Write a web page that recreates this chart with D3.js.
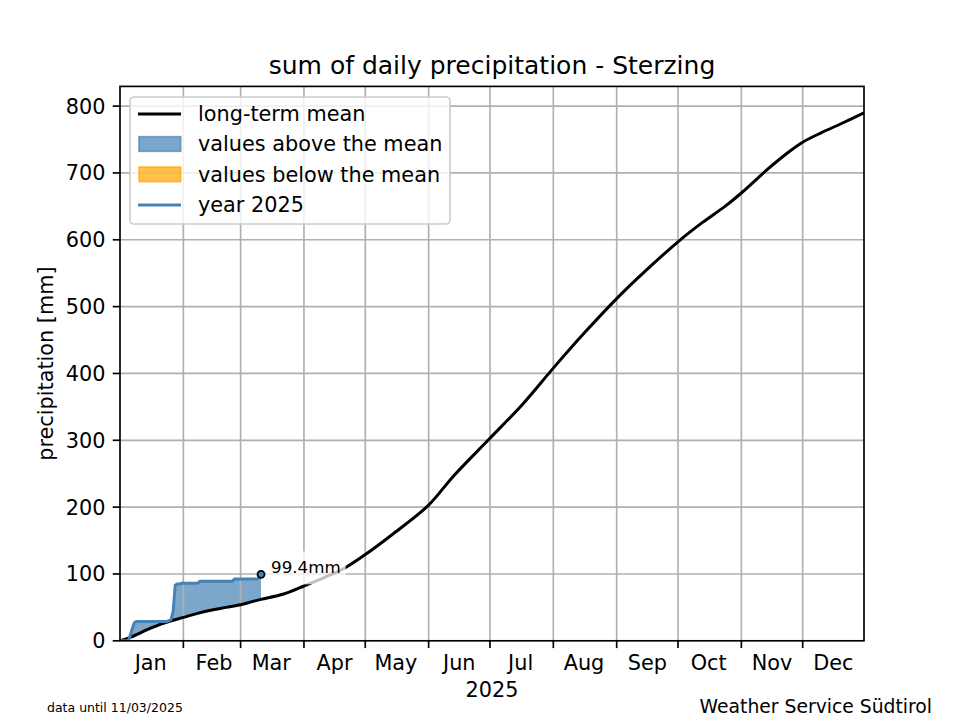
<!DOCTYPE html>
<html>
<head>
<meta charset="utf-8">
<script src="https://cdn.jsdelivr.net/npm/d3@7"></script>
<style>
  html, body { margin: 0; padding: 0; background: #fff; }
  svg { display: block; font-family: "DejaVu Sans", sans-serif; }
</style>
</head>
<body>
<svg id="chart" width="960" height="720"></svg>
<script>
// ---------- data ----------
const titleText = "sum of daily precipitation - Sterzing";
const yLabel = "precipitation [mm]";
const xLabel = "2025";
const footLeft = "data until 11/03/2025";
const footRight = "Weather Service Südtirol";
const legendLabels = ["long-term mean", "values above the mean", "values below the mean", "year 2025"];

const monthLabels = ["Jan","Feb","Mar","Apr","May","Jun","Jul","Aug","Sep","Oct","Nov","Dec"];
const yTicks = [0, 100, 200, 300, 400, 500, 600, 700, 800];

// long-term mean (cumulative mm) read at selected dates
const meanDates = ["2025-01-01","2025-01-06","2025-01-11","2025-01-16","2025-01-21","2025-01-26",
  "2025-02-01","2025-02-08","2025-02-15","2025-02-22","2025-03-01","2025-03-06","2025-03-11",
  "2025-03-22","2025-04-01","2025-04-12","2025-04-21","2025-05-01","2025-05-15","2025-06-01",
  "2025-06-13","2025-07-01","2025-07-17","2025-08-01","2025-08-16","2025-09-01","2025-09-16",
  "2025-10-01","2025-10-13","2025-10-24","2025-11-01","2025-11-14","2025-11-24","2025-12-01",
  "2025-12-10","2025-12-20","2025-12-31"];
const meanValues = [0, 5, 12, 19, 25, 30,
  35, 41, 46, 50, 54, 58, 62,
  70, 82, 96, 109, 129, 161, 203,
  246, 303, 354, 408, 460, 512, 556,
  597, 626, 650, 670, 706, 731, 746,
  760, 774, 790];

// year 2025 daily cumulative precipitation (from 1 Jan to 11 Mar)
const yearStart = "2025-01-01";
const yearValues = [0, 0, 0, 0, 0, 8, 18, 27, 29, 29,
  29, 29, 29, 29, 29, 29, 29, 29, 29, 29,
  29, 29, 29, 29, 30, 32, 44, 83, 85, 85,
  86, 86, 86, 86, 86, 86, 86, 86, 86, 89,
  89, 89, 89, 89, 89, 89, 89, 89, 89, 89,
  89, 89, 89, 89, 89, 89, 92.5, 92.5, 92.5, 92.5,
  92.5, 92.5, 92.5, 92.5, 92.5, 92.5, 92.5, 92.5, 94, 99.4];
const lastValueLabel = "99.4mm";

// ---------- layout ----------
const m = { left: 120, right: 864, top: 86.4, bottom: 640.8 };
const parse = d3.utcParse("%Y-%m-%d");
const svg = d3.select("#chart");

const x = d3.scaleUtc()
  .domain([parse("2025-01-01"), parse("2025-12-31")])
  .range([m.left, m.right]);
const y = d3.scaleLinear().domain([0, 829.5]).range([m.bottom, m.top]);

const blue = "#4682b4", orange = "#ffa500";
const fontMain = 20.8;

const meanData = meanDates.map((d, i) => ({ date: parse(d), v: meanValues[i] }));
const start = parse(yearStart);
const yearData = yearValues.map((v, i) => ({ date: d3.utcDay.offset(start, i), v }));

// mean at a given date (linear between read points) for the fill baseline
const meanAt = (date) => {
  const t = +date;
  const i = d3.bisector(d => +d.date).right(meanData, t);
  if (i <= 0) return meanData[0].v;
  if (i >= meanData.length) return meanData[meanData.length - 1].v;
  const a = meanData[i - 1], b = meanData[i];
  return a.v + (b.v - a.v) * (t - a.date) / (b.date - a.date);
};
yearData.forEach(d => d.m = meanAt(d.date));

svg.append("defs").append("clipPath").attr("id", "clip")
  .append("rect").attr("x", m.left).attr("y", m.top)
  .attr("width", m.right - m.left).attr("height", m.bottom - m.top);

const plot = svg.append("g").attr("clip-path", "url(#clip)");

// fills
const areaAbove = d3.area().x(d => x(d.date)).y0(d => y(d.m)).y1(d => y(Math.max(d.v, d.m)));
const areaBelow = d3.area().x(d => x(d.date)).y0(d => y(d.m)).y1(d => y(Math.min(d.v, d.m)));
plot.append("path").datum(yearData).attr("d", areaAbove)
  .attr("fill", blue).attr("fill-opacity", 0.7);
plot.append("path").datum(yearData).attr("d", areaBelow)
  .attr("fill", orange).attr("fill-opacity", 0.7);

// grid
const monthStarts = d3.utcMonth.range(parse("2025-02-01"), parse("2025-12-31"));
const grid = svg.append("g");
grid.selectAll(".gx").data(monthStarts).join("line")
  .attr("x1", d => x(d)).attr("x2", d => x(d))
  .attr("y1", m.top).attr("y2", m.bottom)
  .attr("stroke", "#b0b0b0").attr("stroke-width", 1.67);
grid.selectAll(".gy").data(yTicks.filter(t => t > 0)).join("line")
  .attr("x1", m.left).attr("x2", m.right)
  .attr("y1", d => y(d)).attr("y2", d => y(d))
  .attr("stroke", "#b0b0b0").attr("stroke-width", 1.67);

// lines
const plot2 = svg.append("g").attr("clip-path", "url(#clip)");
plot2.append("path").datum(meanData)
  .attr("d", d3.line().x(d => x(d.date)).y(d => y(d.v)).curve(d3.curveCatmullRom.alpha(0.5)))
  .attr("fill", "none").attr("stroke", "#000").attr("stroke-width", 3).attr("stroke-linejoin", "round");
plot2.append("path").datum(yearData)
  .attr("d", d3.line().x(d => x(d.date)).y(d => y(d.v)))
  .attr("fill", "none").attr("stroke", blue).attr("stroke-width", 3).attr("stroke-linejoin", "round");

// annotation
const last = yearData[yearData.length - 1];
const lx = x(last.date), ly = y(last.v);
const annFont = 16.7;
const ann = svg.append("g");
const annText = ann.append("text")
  .attr("x", lx + 10).attr("y", ly - 1)
  .attr("font-size", annFont).attr("fill", "#000")
  .text(lastValueLabel);
const bb = annText.node().getBBox();
ann.insert("rect", "text")
  .attr("x", bb.x - 5).attr("y", bb.y - 6)
  .attr("width", bb.width + 10).attr("height", bb.height + 13)
  .attr("fill", "#fff").attr("fill-opacity", 0.75);
svg.append("circle").attr("cx", lx).attr("cy", ly).attr("r", 3.5)
  .attr("fill", blue).attr("stroke", "#000").attr("stroke-width", 1.8);

// axes frame
svg.append("rect").attr("x", m.left).attr("y", m.top)
  .attr("width", m.right - m.left).attr("height", m.bottom - m.top)
  .attr("fill", "none").attr("stroke", "#000").attr("stroke-width", 1.67);

// x axis ticks (month boundaries) and labels (mid-month)
const xa = svg.append("g");
xa.selectAll("line").data(monthStarts).join("line")
  .attr("x1", d => x(d)).attr("x2", d => x(d))
  .attr("y1", m.bottom).attr("y2", m.bottom + 7.3)
  .attr("stroke", "#000").attr("stroke-width", 1.67);
xa.selectAll("text").data(monthLabels).join("text")
  .attr("x", (d, i) => x(new Date(Date.UTC(2025, i, 16))))
  .attr("y", 670)
  .attr("text-anchor", "middle").attr("font-size", fontMain).attr("fill", "#000")
  .text(d => d);

// y axis
const ya = svg.append("g");
ya.selectAll("line").data(yTicks).join("line")
  .attr("x1", m.left - 7.3).attr("x2", m.left)
  .attr("y1", d => y(d)).attr("y2", d => y(d))
  .attr("stroke", "#000").attr("stroke-width", 1.67);
ya.selectAll("text").data(yTicks).join("text")
  .attr("x", m.left - 14.6).attr("y", d => y(d) + 7.5)
  .attr("text-anchor", "end").attr("font-size", fontMain).attr("fill", "#000")
  .text(d => d);

// labels
svg.append("text").attr("x", (m.left + m.right) / 2).attr("y", 74)
  .attr("text-anchor", "middle").attr("font-size", 25).text(titleText);
svg.append("text").attr("x", (m.left + m.right) / 2).attr("y", 697)
  .attr("text-anchor", "middle").attr("font-size", fontMain).text(xLabel);
svg.append("text")
  .attr("transform", `translate(53,${(m.top + m.bottom) / 2}) rotate(-90)`)
  .attr("text-anchor", "middle").attr("font-size", fontMain).text(yLabel);
svg.append("text").attr("x", 47).attr("y", 712).attr("font-size", 12.5).text(footLeft);
svg.append("text").attr("x", 932).attr("y", 713).attr("text-anchor", "end")
  .attr("font-size", 18.75).text(footRight);

// legend
const lg = svg.append("g");
lg.append("rect").attr("x", 130).attr("y", 97).attr("width", 320).attr("height", 127)
  .attr("rx", 4).attr("fill", "#fff").attr("fill-opacity", 0.8)
  .attr("stroke", "#cccccc").attr("stroke-width", 1.67);
const rowY = [114, 144, 174.3, 205];
lg.append("line").attr("x1", 138).attr("x2", 181).attr("y1", rowY[0]).attr("y2", rowY[0])
  .attr("stroke", "#000").attr("stroke-width", 3);
lg.append("rect").attr("x", 139).attr("y", rowY[1] - 7.3).attr("width", 41.7).attr("height", 14.6)
  .attr("fill", blue).attr("fill-opacity", 0.7).attr("stroke", blue).attr("stroke-opacity", 0.7).attr("stroke-width", 1.67);
lg.append("rect").attr("x", 139).attr("y", rowY[2] - 7.3).attr("width", 41.7).attr("height", 14.6)
  .attr("fill", orange).attr("fill-opacity", 0.7).attr("stroke", orange).attr("stroke-opacity", 0.7).attr("stroke-width", 1.67);
lg.append("line").attr("x1", 138).attr("x2", 181).attr("y1", rowY[3]).attr("y2", rowY[3])
  .attr("stroke", blue).attr("stroke-width", 3);
lg.selectAll("text.lbl").data(legendLabels).join("text")
  .attr("class", "lbl")
  .attr("x", 198).attr("y", (d, i) => rowY[i] + 7.3)
  .attr("font-size", fontMain).attr("fill", "#000")
  .text(d => d);
</script>
</body>
</html>
